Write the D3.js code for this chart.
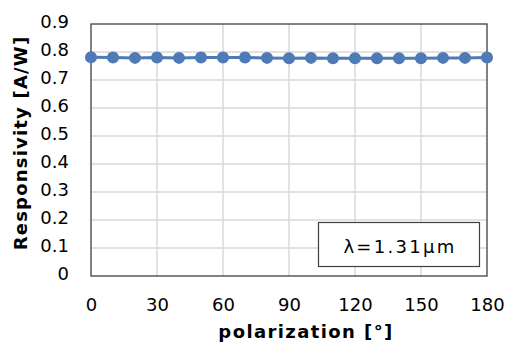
<!DOCTYPE html>
<html>
<head>
<meta charset="utf-8">
<script src="https://cdn.jsdelivr.net/npm/d3@7"></script>
<style>
  html, body { margin: 0; padding: 0; background: #fff; }
  svg { display: block; font-family: "DejaVu Sans", Verdana, sans-serif; }
</style>
</head>
<body>
<svg id="chart" width="505" height="347"></svg>
<script>
const angles = [0, 10, 20, 30, 40, 50, 60, 70, 80, 90, 100, 110, 120, 130, 140, 150, 160, 170, 180];
const responsivity = [0.781, 0.780, 0.779, 0.780, 0.779, 0.780, 0.780, 0.780, 0.779, 0.778, 0.779, 0.778, 0.778, 0.778, 0.778, 0.778, 0.779, 0.779, 0.780];
const xTicks = [0, 30, 60, 90, 120, 150, 180];
const yTicks = [0, 0.1, 0.2, 0.3, 0.4, 0.5, 0.6, 0.7, 0.8, 0.9];
const xTitle = "polarization [°]";
const yTitle = "Responsivity [A/W]";
const legendText = "λ=1.31μm";

const svg = d3.select("#chart");
const m = { left: 91, top: 24, right: 487, bottom: 276 };
const x = d3.scaleLinear().domain([0, 180]).range([m.left, m.right]);
const y = d3.scaleLinear().domain([0, 0.9]).range([m.bottom, m.top]);

// gridlines
svg.append("g").selectAll("line").data(xTicks.slice(1, -1)).join("line")
  .attr("x1", d => x(d)).attr("x2", d => x(d))
  .attr("y1", m.top).attr("y2", m.bottom)
  .attr("stroke", "#d9d9d9").attr("stroke-width", 1.5);
svg.append("g").selectAll("line").data(yTicks.slice(1, -1)).join("line")
  .attr("x1", m.left).attr("x2", m.right)
  .attr("y1", d => y(d)).attr("y2", d => y(d))
  .attr("stroke", "#d9d9d9").attr("stroke-width", 1.5);

// plot border
svg.append("rect")
  .attr("x", m.left).attr("y", m.top)
  .attr("width", m.right - m.left).attr("height", m.bottom - m.top)
  .attr("fill", "none").attr("stroke", "#404040").attr("stroke-width", 1.3);

// axes labels
const xAxis = d3.axisBottom(x).tickValues(xTicks).tickSize(0).tickPadding(0).tickFormat(d3.format("d"));
const gx = svg.append("g").attr("transform", `translate(0,${m.bottom})`).call(xAxis);
gx.select(".domain").remove();
gx.selectAll("text").attr("font-size", "18px").attr("fill", "#000")
  .attr("font-family", "DejaVu Sans, sans-serif").attr("dy", null).attr("y", 35);

const yAxis = d3.axisLeft(y).tickValues(yTicks).tickSize(0).tickPadding(0).tickFormat(d => d === 0 ? "0" : d3.format(".1f")(d));
const gy = svg.append("g").attr("transform", `translate(${m.left - 22},0)`).call(yAxis);
gy.select(".domain").remove();
gy.selectAll("text").attr("font-size", "18px").attr("fill", "#000")
  .attr("font-family", "DejaVu Sans, sans-serif").attr("dy", "0.2em");

// titles
svg.append("text").attr("x", (m.left + m.right) / 2 + 17).attr("y", 338)
  .attr("text-anchor", "middle").attr("font-size", "18px").attr("font-weight", "bold")
  .attr("letter-spacing", "1.4px")
  .text(xTitle);
svg.append("text").attr("transform", `translate(27,143) rotate(-90)`)
  .attr("text-anchor", "middle").attr("font-size", "18px").attr("font-weight", "bold")
  .attr("letter-spacing", "1.2px")
  .text(yTitle);

// series
const color = "#4e7ab5";
svg.append("path").datum(angles.map((a, i) => [a, responsivity[i]]))
  .attr("fill", "none").attr("stroke", color).attr("stroke-width", 3)
  .attr("d", d3.line().x(d => x(d[0])).y(d => y(d[1])));
svg.append("g").selectAll("circle").data(angles).join("circle")
  .attr("cx", d => x(d)).attr("cy", (d, i) => y(responsivity[i]))
  .attr("r", 6).attr("fill", color);

// legend box
svg.append("rect").attr("x", 318.5).attr("y", 222.5).attr("width", 161).attr("height", 44)
  .attr("fill", "#fff").attr("stroke", "#404040").attr("stroke-width", 1.2);
svg.append("text").attr("x", 400).attr("y", 253).attr("text-anchor", "middle")
  .attr("font-size", "18px").attr("letter-spacing", "2.3px").text(legendText);
</script>
</body>
</html>
